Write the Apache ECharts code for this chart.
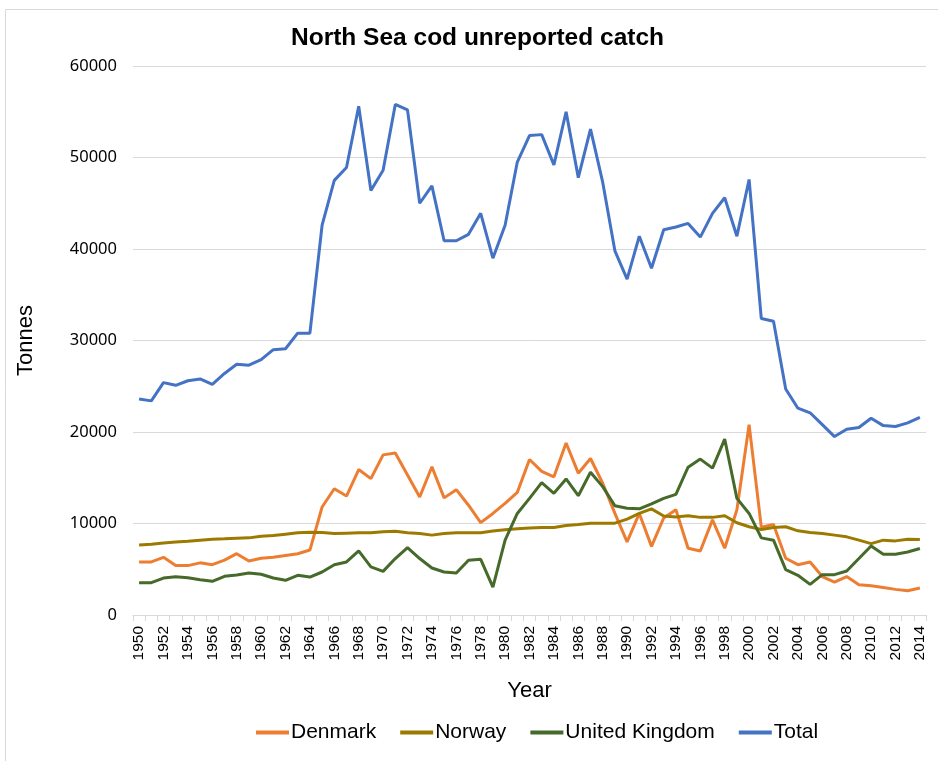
<!DOCTYPE html>
<html>
<head>
<meta charset="utf-8">
<script src="https://cdn.jsdelivr.net/npm/echarts@6/dist/echarts.min.js"></script>
<style>
  html, body { margin: 0; padding: 0; background: #ffffff; }
  #chart { width: 938px; height: 761px; }
</style>
</head>
<body>
<div id="chart"></div>
<script>
// Years on the category axis
const years = [];
for (let y = 1950; y <= 2014; y++) years.push(String(y));

// Unreported cod catch, tonnes
const denmark = [
  5800, 5800, 6300, 5400, 5400, 5700, 5500, 6000, 6700, 5900, 6200, 6300, 6500, 6700, 7100,
  11800, 13800, 13000, 15900, 14900, 17500, 17700, 15300, 12900, 16200, 12800, 13700, 12000, 10100, 11100,
  12200, 13400, 17000, 15700, 15100, 18800, 15500, 17100, 14400, 11100, 8000, 11100, 7500, 10600, 11500,
  7300, 7000, 10400, 7300, 11500, 20800, 9600, 9900, 6200, 5500, 5800, 4200, 3600, 4200, 3300,
  3200, 3000, 2800, 2650, 2950
];
const norway = [
  7660, 7730, 7880, 7990, 8060, 8170, 8280, 8320, 8390, 8430, 8610, 8680, 8830, 8980, 9050,
  9020, 8900, 8940, 8980, 9000, 9100, 9150, 8980, 8900, 8730, 8900, 8980, 8980, 8980, 9170,
  9310, 9420, 9500, 9570, 9570, 9790, 9900, 10040, 10040, 10040, 10480, 11100, 11600, 10820, 10720,
  10850, 10670, 10670, 10850, 10080, 9640, 9350, 9570, 9640, 9200, 9020, 8910, 8730, 8540, 8180,
  7800, 8180, 8100, 8290, 8250
];
const unitedKingdom = [
  3530, 3530, 4040, 4190, 4080, 3860, 3680, 4230, 4370, 4590, 4450, 4040, 3790, 4340, 4150,
  4700, 5500, 5800, 7000, 5250, 4770, 6170, 7370, 6170, 5140, 4700, 4590, 5980, 6090, 3050,
  8180, 11100, 12750, 14470, 13300, 14870, 13040, 15600, 14030, 11940, 11660, 11600, 12150, 12750, 13190,
  16160, 17040, 16050, 19230, 12750, 11100, 8430, 8180, 4960, 4340, 3350, 4410, 4410, 4810, 6170,
  7550, 6640, 6640, 6890, 7270
];
const total = [
  23600, 23400, 25400, 25100, 25600, 25800, 25200, 26400, 27400, 27300, 27900, 29000, 29100, 30800, 30800,
  42600, 47500, 48900, 55600, 46400, 48600, 55800, 55200, 45000, 46900, 40900, 40900, 41600, 43900, 39000,
  42600, 49500, 52400, 52500, 49200, 55000, 47800, 53100, 47300, 39800, 36700, 41400, 37900, 42100, 42400,
  42800, 41300, 43900, 45600, 41400, 47600, 32400, 32100, 24700, 22600, 22100, 20800, 19500, 20300, 20500,
  21500, 20700, 20600, 21000, 21600
];

const seriesNames = ['Denmark', 'Norway', 'United Kingdom', 'Total'];
const seriesColors = ['#ED7D31', '#9C7A00', '#456A2A', '#4472C4'];
const seriesData = [denmark, norway, unitedKingdom, total];

const chart = echarts.init(document.getElementById('chart'), null, { renderer: 'canvas' });

const axisFont = 'Liberation Sans, Arial, sans-serif';

chart.setOption({
  backgroundColor: '#ffffff',
  animation: false,
  graphic: [{
    type: 'rect',
    shape: { x: 5.5, y: 9.5, width: 950, height: 780 },
    style: { fill: 'none', stroke: '#d9d9d9', lineWidth: 1 },
    silent: true,
    z: -1
  }],
  title: {
    text: 'North Sea cod unreported catch',
    left: 286,
    top: 21,
    textStyle: {
      fontFamily: axisFont,
      fontSize: 24.5,
      fontWeight: 'bold',
      color: '#000000'
    }
  },
  grid: {
    left: 133,
    right: 12,
    top: 66,
    bottom: 146,
    containLabel: false
  },
  legend: {
    data: seriesNames,
    bottom: 13,
    left: 251,
    icon: 'rect',
    itemWidth: 33,
    itemHeight: 4,
    itemGap: 24,
    textStyle: {
      fontFamily: axisFont,
      fontSize: 21,
      color: '#000000',
      padding: [0, 0, 0, -3]
    }
  },
  xAxis: {
    type: 'category',
    data: years,
    boundaryGap: true,
    name: 'Year',
    nameLocation: 'middle',
    nameGap: 65,
    nameTextStyle: { fontFamily: axisFont, fontSize: 22, color: '#000000' },
    axisLine: { lineStyle: { color: '#d9d9d9', width: 1 } },
    axisTick: { show: true, interval: 0, length: 6, lineStyle: { color: '#d9d9d9' } },
    axisLabel: {
      interval: 1,
      rotate: 90,
      margin: 11,
      fontFamily: axisFont,
      fontSize: 15.5,
      color: '#000000'
    },
    splitLine: { show: false }
  },
  yAxis: {
    type: 'value',
    min: 0,
    max: 60000,
    interval: 10000,
    name: 'Tonnes',
    nameLocation: 'middle',
    nameGap: 96,
    nameRotate: 90,
    nameTextStyle: { fontFamily: axisFont, fontSize: 22, color: '#000000' },
    axisLine: { show: false },
    axisTick: { show: false },
    axisLabel: {
      margin: 16,
      formatter: (v) => String(v),
      fontFamily: 'Noto Sans, Open Sans, sans-serif',
      fontSize: 16.5,
      color: '#000000'
    },
    splitLine: { lineStyle: { color: '#d9d9d9', width: 1 } }
  },
  series: seriesNames.map((name, i) => ({
    name: name,
    type: 'line',
    data: seriesData[i],
    symbol: 'none',
    smooth: false,
    lineStyle: { width: 3, color: seriesColors[i] },
    itemStyle: { color: seriesColors[i] },
    z: 2
  }))
});
</script>
</body>
</html>
